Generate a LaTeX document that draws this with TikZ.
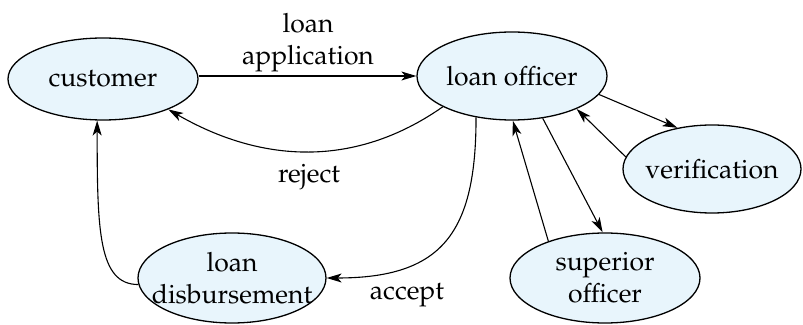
\documentclass[tikz,border=0pt]{standalone}
\usepackage[T1]{fontenc}
\usepackage{mathpazo}
\usetikzlibrary{shapes.geometric,arrows.meta}
\definecolor{nodefill}{HTML}{E8F5FC}
\tikzset{
  state/.style={ellipse, draw=black, line width=1.3pt, fill=nodefill, inner sep=-20pt, align=center},
  arr/.style={line width=1.1pt, -{Stealth[length=15pt,width=9pt,inset=4pt]}},
  lbl/.style={align=center, inner sep=0pt}
}
\begin{document}
\begin{tikzpicture}[x=1pt,y=1pt,font=\fontsize{26.5}{32}\selectfont]
\useasboundingbox (0,0) rectangle (803,324);
\node[state, minimum width=190pt, minimum height=82pt] (cust) at (103,245) {customer};
\node[state, minimum width=190pt, minimum height=88pt] (lo) at (512,248) {loan officer};
\node[state, minimum width=178pt, minimum height=88pt] (ver) at (712,155) {verification};
\node[state, minimum width=190pt, minimum height=90pt] (sup) at (605,46) {superior\\officer};
\node[state, minimum width=188pt, minimum height=90pt] (dis) at (232,46) {loan\\disbursement};

\draw[arr] (lo.west -| cust.east) -- (lo.west);
\node[lbl] (lapp) at (308,281) {loan\\application};
\draw[arr] (lo.204) to[out=215,in=-30] (cust.-25);
\node[lbl] (rej) at (309,147) {reject};
\draw[arr] (lo.229) to[out=-90,in=0,looseness=1.35] (dis.east);
\node[lbl] (acc) at (407,29) {accept};
\draw[arr] (dis.184) .. controls +(-40,0) and +(0,-110) .. (cust.262);
\draw[arr] (lo.-12) -- (ver.130);
\draw[arr] (ver.172) -- (lo.-27);
\draw[arr] (lo.-54) -- (sup.93);
\draw[arr] (sup.147) -- (lo.-89);
\end{tikzpicture}
\end{document}
